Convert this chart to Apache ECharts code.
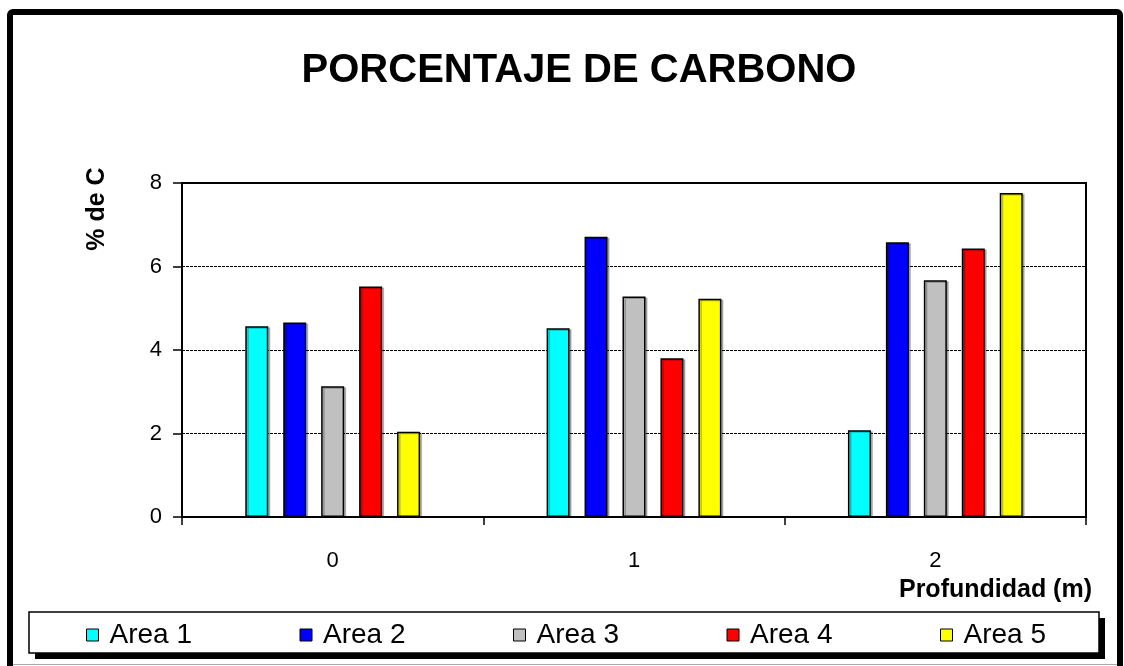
<!DOCTYPE html>
<html>
<head>
<meta charset="utf-8">
<script src="https://cdn.jsdelivr.net/npm/echarts@6/dist/echarts.min.js"></script>
<style>
html,body{margin:0;padding:0;background:#fff;}
#chart{width:1124px;height:666px;}
</style>
</head>
<body>
<div id="chart"></div>
<script>
var categories = ['0', '1', '2'];
var seriesNames = ['Area 1', 'Area 2', 'Area 3', 'Area 4', 'Area 5'];
var area1 = [4.57, 4.52, 2.08];
var area2 = [4.66, 6.71, 6.58];
var area3 = [3.13, 5.28, 5.67];
var area4 = [5.52, 3.80, 6.43];
var area5 = [2.04, 5.23, 7.76];
var yTicks = [0, 2, 4, 6, 8];
var colors = ['#00FFFF', '#0000FF', '#C0C0C0', '#FF0000', '#FFFF00'];
var titleText = 'PORCENTAJE DE CARBONO';
var yName = '% de C';
var xName = 'Profundidad (m)';

var FONT = 'Arial, "Liberation Sans", sans-serif';
var values = [area1, area2, area3, area4, area5];

var chart = echarts.init(document.getElementById('chart'), null, {renderer: 'canvas'});

var series = seriesNames.map(function (name, i) {
  return {
    name: name,
    type: 'bar',
    data: values[i],
    barWidth: 23,
    barGap: '65%',
    itemStyle: {
      color: colors[i],
      borderColor: '#000',
      borderWidth: 1.5,
      shadowColor: 'rgba(0,0,0,0.25)',
      shadowOffsetX: 2,
      shadowOffsetY: 1,
      shadowBlur: 0
    },
    emphasis: {disabled: true},
    animation: false
  };
});

var option = {
  animation: false,
  backgroundColor: '#fff',
  grid: {
    left: 182, right: 38, top: 183, bottom: 149,
    show: true, borderColor: '#000', borderWidth: 2, backgroundColor: 'transparent'
  },
  xAxis: {
    type: 'category',
    data: categories,
    boundaryGap: true,
    axisLine: {lineStyle: {color: '#000', width: 2}},
    axisTick: {show: true, inside: false, length: 8, alignWithLabel: false, lineStyle: {color: '#000', width: 1.5}},
    axisLabel: {color: '#000', fontFamily: FONT, fontSize: 22, margin: 33},
    splitLine: {show: false}
  },
  yAxis: {
    type: 'value',
    min: yTicks[0],
    max: yTicks[yTicks.length - 1],
    interval: 2,
    axisLine: {show: true, lineStyle: {color: '#000', width: 2}},
    axisTick: {show: true, inside: false, length: 9, lineStyle: {color: '#000', width: 1.5}},
    axisLabel: {color: '#000', fontFamily: FONT, fontSize: 22, margin: 20},
    splitLine: {show: true, lineStyle: {color: '#000', width: 1, type: [3, 1]}}
  },
  legend: {
    data: seriesNames,
    left: 86,
    top: 621,
    padding: 0,
    orient: 'horizontal',
    icon: 'rect',
    itemWidth: 12,
    itemHeight: 12,
    itemGap: 100,
    z: 10,
    itemStyle: {borderColor: '#000', borderWidth: 1, shadowBlur: 0, shadowOffsetX: 0, shadowOffsetY: 0, shadowColor: 'transparent'},
    textStyle: {color: '#000', fontFamily: FONT, fontSize: 28, width: 90, lineHeight: 28, padding: [0, 0, 0, 6]},
    selectedMode: false
  },
  graphic: [
    {
      type: 'rect', z: -10, silent: true,
      shape: {x: 10, y: 12, width: 1110, height: 720, r: 3},
      style: {fill: '#fff', stroke: '#000', lineWidth: 6}
    },
    {
      type: 'line', z: -5, silent: true,
      shape: {x1: 13, y1: 664.5, x2: 1117, y2: 664.5},
      style: {stroke: '#aaa', lineWidth: 1}
    },
    {
      type: 'rect', z: -3, silent: true,
      shape: {x: 35, y: 618, width: 1070, height: 41},
      style: {fill: '#000'}
    },
    {
      type: 'rect', z: -2, silent: true,
      shape: {x: 29, y: 612, width: 1070, height: 41},
      style: {fill: '#fff', stroke: '#000', lineWidth: 1.5}
    },
    {
      type: 'text', silent: true,
      x: 579, y: 71,
      style: {text: titleText, fill: '#000', font: 'bold 40px ' + FONT, textAlign: 'center', textVerticalAlign: 'middle'}
    },
    {
      type: 'text', silent: true,
      x: 97, y: 209, rotation: Math.PI / 2,
      style: {text: yName, fill: '#000', font: 'bold 25px ' + FONT, textAlign: 'center', textVerticalAlign: 'middle'}
    },
    {
      type: 'text', silent: true,
      x: 1092, y: 590,
      style: {text: xName, fill: '#000', font: 'bold 25px ' + FONT, textAlign: 'right', textVerticalAlign: 'middle'}
    }
  ],
  series: series
};

chart.setOption(option);
</script>
</body>
</html>
